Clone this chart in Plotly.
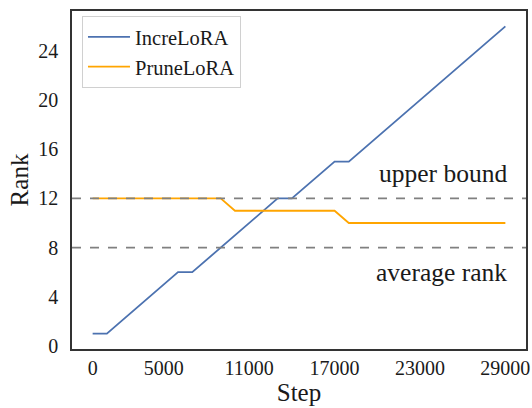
import plotly.graph_objects as go

# Data
incre_steps = [0, 1000, 6000, 7000, 13000, 14000, 17000, 18000, 29000]
incre_rank = [1, 1, 6, 6, 12, 12, 15, 15, 26]
prune_steps = [0, 9000, 10000, 17000, 18000, 29000]
prune_rank = [12, 12, 11, 11, 10, 10]
upper_bound = 12
average_rank = 8
x_ticks = [0, 5000, 11000, 17000, 23000, 29000]
y_ticks = [0, 4, 8, 12, 16, 20, 24]

FONT = "Liberation Serif"
TXT = "#1a1a1a"

fig = go.Figure()
fig.add_trace(go.Scatter(x=incre_steps, y=incre_rank, mode="lines", name="IncreLoRA",
                         line=dict(color="#4c72b0", width=1.8)))
fig.add_trace(go.Scatter(x=prune_steps, y=prune_rank, mode="lines", name="PruneLoRA",
                         line=dict(color="#ffa500", width=1.8)))

for yv in (upper_bound, average_rank):
    fig.add_shape(type="line", xref="paper", x0=0, x1=1, yref="y", y0=yv, y1=yv,
                  line=dict(color="#808080", width=1.8, dash="dash"), layer="above")

fig.add_annotation(x=29000, y=upper_bound, xref="x", yref="y", text="upper bound",
                   showarrow=False, xanchor="right", yanchor="bottom", yshift=8, xshift=4,
                   font=dict(family=FONT, size=25.5, color=TXT))
fig.add_annotation(x=29000, y=average_rank, xref="x", yref="y", text="average rank",
                   showarrow=False, xanchor="right", yanchor="top", yshift=-8, xshift=4,
                   font=dict(family=FONT, size=25.5, color=TXT))

axis_common = dict(showline=True, linecolor="#333333", linewidth=1.5, mirror=True,
                   showgrid=False, zeroline=False, ticks="", automargin=False,
                   tickfont=dict(family=FONT, size=20, color=TXT))
fig.update_xaxes(range=[-1450, 30450], tickvals=x_ticks,
                 ticktext=[str(v) for v in x_ticks], ticklabelstandoff=0,
                 title=dict(text="Step", font=dict(family=FONT, size=25, color=TXT), standoff=0),
                 **axis_common)
fig.update_yaxes(range=[-0.25, 27.25], tickvals=y_ticks, ticklabelstandoff=8,
                 title=dict(text="Rank", font=dict(family=FONT, size=25, color=TXT), standoff=3),
                 **axis_common)

fig.update_layout(
    width=532, height=408,
    margin=dict(l=72, r=6, t=11, b=59),
    plot_bgcolor="white", paper_bgcolor="white",
    font=dict(family=FONT),
    legend=dict(x=0.022, y=0.985, xanchor="left", yanchor="top", itemwidth=42,
                bgcolor="white", bordercolor="#d0d0d0", borderwidth=1,
                font=dict(family=FONT, size=20.5, color=TXT)),
)

fig.write_html("out.html", config={"displayModeBar": False},
               post_script="document.body.style.margin='0';")
